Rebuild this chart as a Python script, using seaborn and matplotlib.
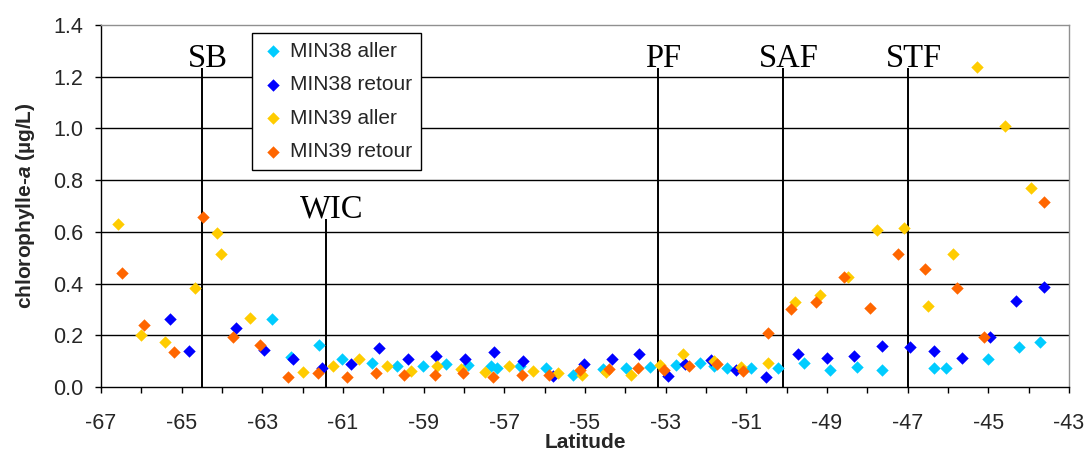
import numpy as np
import pandas as pd
import matplotlib.pyplot as plt
import seaborn as sns

# latitude / chlorophyll values
lat_min38_aller = [-62.75, -62.30, -61.59, -61.02, -60.29, -59.65, -59.01, -58.45, -57.89, -57.34,
                   -57.17, -56.61, -55.97, -55.29, -54.56, -53.98, -53.40, -52.75, -52.15, -51.79,
                   -51.49, -50.88, -50.22, -49.57, -48.92, -48.26, -47.63, -46.35, -46.05, -45.01,
                   -44.24, -43.72]
chl_min38_aller = [0.262, 0.117, 0.161, 0.107, 0.094, 0.081, 0.081, 0.088, 0.085, 0.081,
                   0.072, 0.081, 0.075, 0.046, 0.068, 0.072, 0.079, 0.085, 0.094, 0.081,
                   0.072, 0.072, 0.072, 0.094, 0.066, 0.079, 0.066, 0.072, 0.072, 0.107,
                   0.153, 0.173]

lat_min38_retour = [-65.29, -64.81, -63.65, -62.95, -62.23, -61.51, -60.81, -60.11, -59.40, -58.70,
                    -57.97, -57.26, -56.53, -55.80, -55.02, -54.32, -53.65, -52.95, -52.52, -51.87,
                    -51.25, -50.51, -49.73, -49.01, -48.32, -47.63, -46.94, -46.35, -45.66, -44.96,
                    -44.32, -43.63]
chl_min38_retour = [0.262, 0.140, 0.227, 0.144, 0.107, 0.075, 0.088, 0.150, 0.107, 0.121,
                    0.108, 0.134, 0.101, 0.043, 0.088, 0.107, 0.128, 0.043, 0.088, 0.104,
                    0.066, 0.040, 0.128, 0.113, 0.120, 0.160, 0.153, 0.139, 0.113, 0.195,
                    0.334, 0.388]

lat_min39_aller = [-66.57, -66.02, -65.41, -64.68, -64.13, -64.03, -63.31, -61.98, -61.24, -60.60,
                   -59.92, -59.31, -58.66, -58.07, -57.48, -56.88, -56.30, -55.66, -55.07, -54.48,
                   -53.86, -53.14, -52.58, -51.81, -51.13, -50.47, -49.79, -49.17, -48.49, -47.77,
                   -47.09, -46.49, -45.87, -45.27, -44.59, -43.94]
chl_min39_aller = [0.629, 0.201, 0.173, 0.382, 0.597, 0.516, 0.268, 0.059, 0.081, 0.107,
                   0.081, 0.062, 0.081, 0.068, 0.059, 0.081, 0.062, 0.053, 0.046, 0.059,
                   0.046, 0.085, 0.128, 0.101, 0.079, 0.094, 0.327, 0.356, 0.427, 0.607,
                   0.614, 0.314, 0.514, 1.239, 1.009, 0.768]

lat_min39_retour = [-66.49, -65.93, -65.19, -64.47, -63.73, -63.05, -62.36, -61.63, -60.91, -60.18,
                    -59.48, -58.71, -58.03, -57.29, -56.57, -55.88, -55.12, -54.41, -53.69, -53.04,
                    -52.41, -51.73, -51.07, -50.47, -49.88, -49.27, -48.58, -47.93, -47.25, -46.57,
                    -45.78, -45.10, -43.61]
chl_min39_retour = [0.441, 0.240, 0.134, 0.656, 0.195, 0.161, 0.040, 0.053, 0.040, 0.053,
                    0.046, 0.046, 0.053, 0.040, 0.046, 0.046, 0.066, 0.068, 0.072, 0.066,
                    0.081, 0.088, 0.062, 0.208, 0.300, 0.327, 0.427, 0.307, 0.514, 0.455,
                    0.382, 0.195, 0.714]

# oceanic fronts
front_names = ["SB", "WIC", "PF", "SAF", "STF"]
front_lat = [-64.50, -61.42, -53.19, -50.08, -46.98]
front_top = [1.235, 0.65, 1.235, 1.235, 1.235]

series = [
    ("MIN38 aller", lat_min38_aller, chl_min38_aller, "#00CCFF"),
    ("MIN38 retour", lat_min38_retour, chl_min38_retour, "#0000FF"),
    ("MIN39 aller", lat_min39_aller, chl_min39_aller, "#FFCC00"),
    ("MIN39 retour", lat_min39_retour, chl_min39_retour, "#FF6600"),
]

sns.set_theme(style="white")
plt.rcParams['font.family'] = ['Liberation Sans', 'DejaVu Sans']
plt.rcParams['mathtext.fontset'] = 'custom'
plt.rcParams['mathtext.it'] = 'Liberation Sans:italic:bold'
plt.rcParams['mathtext.rm'] = 'Liberation Sans:bold'

fig = plt.figure(figsize=(10.87, 4.51), dpi=100)
ax = fig.add_axes([0.0929, 0.1419, 0.8905, 0.8027])

# horizontal grid
for yv in np.arange(0.2, 1.3, 0.2):
    ax.axhline(yv, color="black", lw=1.0, zorder=1)

# front lines + labels
ax.vlines(front_lat, 0, front_top, color="black", lw=1.4, zorder=2)
for name, x, top in zip(front_names, front_lat, front_top):
    ax.text(x + 0.14, top + 0.004, name, ha="center", va="baseline",
            family="Liberation Serif", fontsize=23.5, color="black")

for label, lat, chl, col in series:
    df = pd.DataFrame({"Latitude": lat, "chl": chl})
    sns.scatterplot(data=df, x="Latitude", y="chl", ax=ax, marker="D", s=40,
                    color=col, linewidth=0, label=label, zorder=3)

ax.set_xlim(-67, -43)
ax.set_ylim(0, 1.4)
ax.set_xticks(np.arange(-67, -42, 2))
ax.set_xticks(np.arange(-67, -42, 1), minor=True)
ax.set_xticklabels([str(v) for v in range(-67, -42, 2)])
ax.set_yticks(np.arange(0, 1.41, 0.2))
ax.set_yticklabels([f"{v:.1f}" for v in np.arange(0, 1.41, 0.2)])

ax.tick_params(axis="x", which="both", direction="out", length=4, width=1, color="black",
               labelsize=15.5, pad=15, bottom=True)
ax.tick_params(axis="y", direction="out", length=4, width=1, color="black",
               labelsize=15.5, pad=9, left=True)

for side in ["left", "bottom"]:
    ax.spines[side].set_color("black")
    ax.spines[side].set_linewidth(1.0)
for side in ["top", "right"]:
    ax.spines[side].set_color("#909090")
    ax.spines[side].set_linewidth(1.0)

ax.set_xlabel("Latitude", fontsize=15, fontweight="bold", labelpad=-1)
ax.set_ylabel("chlorophylle-$a$ (µg/L)", fontsize=15, fontweight="bold", labelpad=11)

leg = ax.legend(loc="upper left", bbox_to_anchor=(0.156, 0.978), borderaxespad=0,
                fontsize=15, frameon=True, fancybox=False, framealpha=1,
                edgecolor="black", labelspacing=0.7, handletextpad=0.2,
                handlelength=1.2, borderpad=0.42, markerscale=1.0)
leg.get_frame().set_linewidth(1.0)

fig.savefig("out.png", dpi=100)
